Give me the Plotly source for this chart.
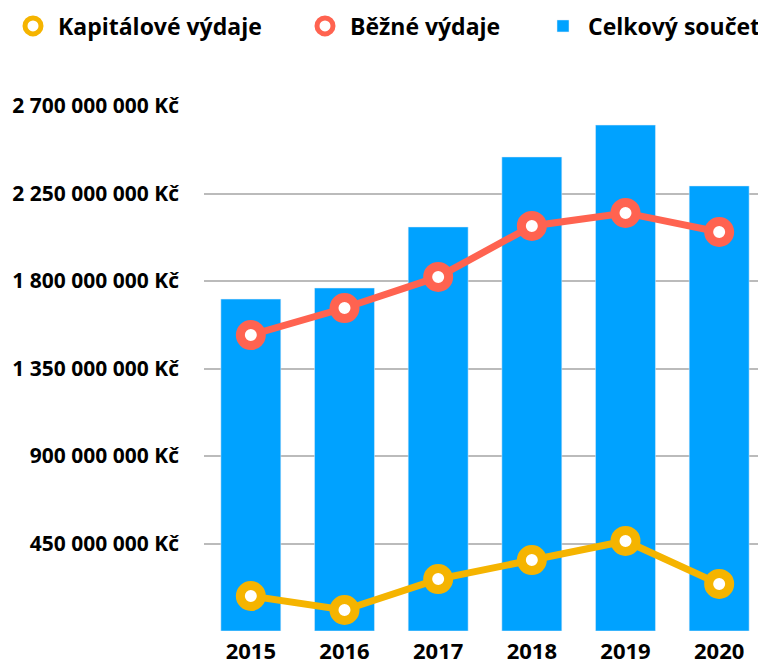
import plotly.graph_objects as go

years = ["2015", "2016", "2017", "2018", "2019", "2020"]
kapitalove = [180e6, 108e6, 267e6, 365e6, 463e6, 242e6]
bezne = [1522e6, 1661e6, 1821e6, 2083e6, 2150e6, 2052e6]
celkem = [1707e6, 1764e6, 2078e6, 2438e6, 2602e6, 2289e6]
tick_vals = [0, 450e6, 900e6, 1350e6, 1800e6, 2250e6, 2700e6]
tick_text = ["", "450 000 000 Kč", "900 000 000 Kč", "1 350 000 000 Kč",
             "1 800 000 000 Kč", "2 250 000 000 Kč", "2 700 000 000 Kč"]

YELLOW = "#F5B400"
RED = "#FF6350"
BLUE = "#00A2FF"

fig = go.Figure()
fig.add_trace(go.Bar(x=years, y=celkem, name="Celkový součet", marker_color=BLUE,
                     legend="legend3"))
fig.add_trace(go.Scatter(x=years, y=bezne, mode="lines", line=dict(color=RED, width=7),
                         showlegend=False, hoverinfo="skip"))
fig.add_trace(go.Scatter(x=years, y=bezne, mode="markers", name="Běžné výdaje",
                         marker=dict(size=21, color="white", line=dict(color=RED, width=9)),
                         legend="legend2"))
fig.add_trace(go.Scatter(x=years, y=kapitalove, mode="lines", line=dict(color=YELLOW, width=7),
                         showlegend=False, hoverinfo="skip"))
fig.add_trace(go.Scatter(x=years, y=kapitalove, mode="markers", name="Kapitálové výdaje",
                         marker=dict(size=21, color="white", line=dict(color=YELLOW, width=9)),
                         legend="legend"))

W, H = 758, 657  # browser body margin of 8px offsets the figure
leg_y = 1 - 18 / H
leg_common = dict(orientation="h", xref="container", xanchor="left",
                  yref="container", y=leg_y, yanchor="middle",
                  font=dict(size=23, family="Open Sans", weight="bold"),
                  itemwidth=40, bgcolor="rgba(0,0,0,0)")

fig.update_layout(
    width=W, height=H,
    margin=dict(l=196, r=0, t=98, b=34, autoexpand=False),
    paper_bgcolor="white", plot_bgcolor="white",
    font=dict(family="Open Sans", size=18, color="black"),
    bargap=0.36,
    legend=dict(x=0, **leg_common),
    legend2=dict(x=292 / W, **leg_common),
    legend3=dict(x=530 / W, **leg_common),
    xaxis=dict(showgrid=False, tickfont=dict(size=22, weight="bold"), ticks="",
               automargin=False, ticklabelstandoff=5),
    yaxis=dict(range=[0, 2700e6], tickvals=tick_vals, ticktext=tick_text,
               showgrid=True, gridcolor="#BBBBBB", gridwidth=2, zeroline=False,
               tickfont=dict(size=21, weight="bold"), ticklabelstandoff=24,
               automargin=False),
)

fig.write_html("out.html")
